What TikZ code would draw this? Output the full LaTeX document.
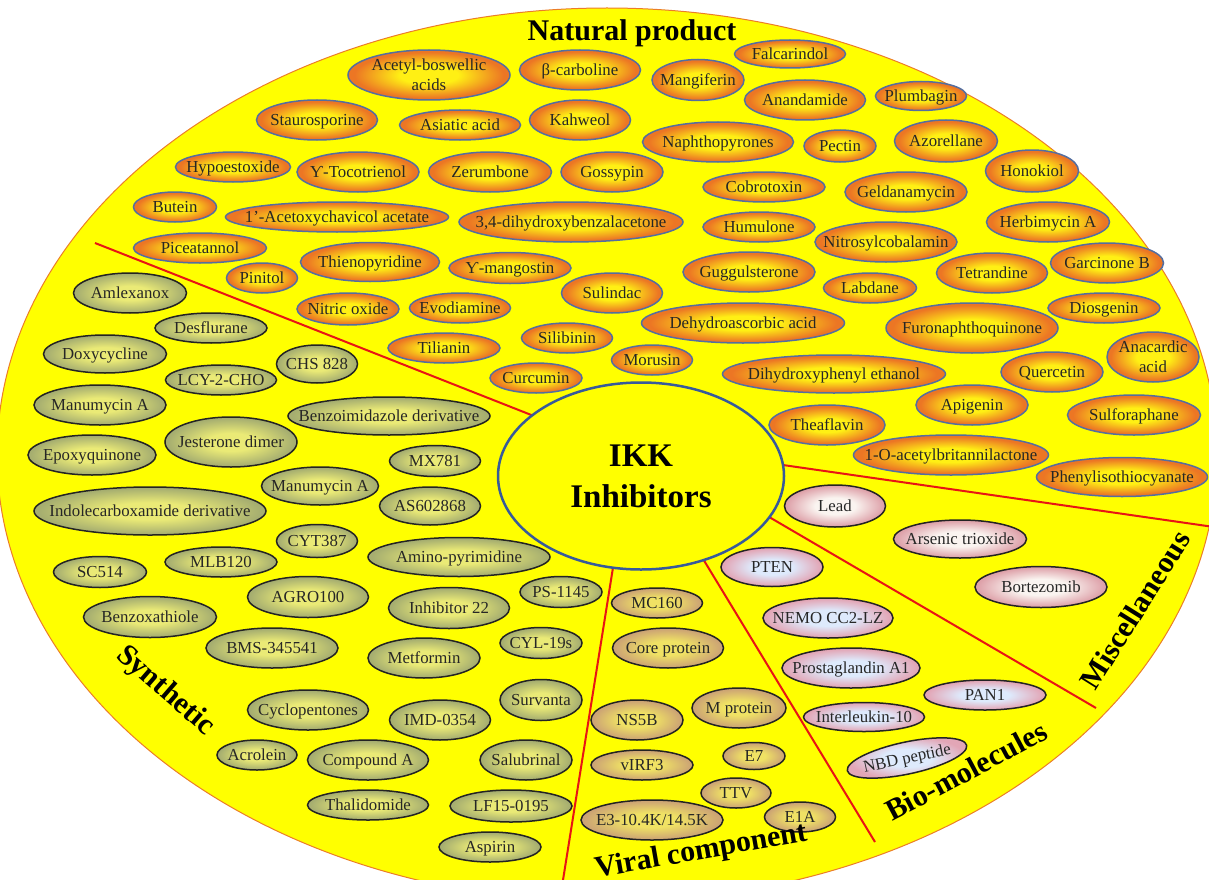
\documentclass[tikz,border=0pt]{standalone}
\usepackage{fontspec}
\setmainfont{Liberation Serif}
\usepackage{xcolor}
\definecolor{Canvas}{RGB}{255,255,0}
\definecolor{RimLine}{RGB}{235,125,40}
\definecolor{Divider}{RGB}{232,20,20}
\definecolor{IkkLine}{RGB}{55,90,155}
\definecolor{NatIn}{RGB}{255,240,20}
\definecolor{NatOut}{RGB}{236,118,36}
\definecolor{NatLine}{RGB}{84,110,160}
\definecolor{SynIn}{RGB}{234,234,118}
\definecolor{SynOut}{RGB}{166,174,112}
\definecolor{VirIn}{RGB}{240,226,100}
\definecolor{VirOut}{RGB}{204,164,116}
\definecolor{BioIn}{RGB}{222,234,252}
\definecolor{BioOut}{RGB}{226,166,182}
\definecolor{MisIn}{RGB}{250,244,240}
\definecolor{MisOut}{RGB}{222,162,170}
\definecolor{DarkLine}{RGB}{35,35,35}
\usepackage{tikz}
\usetikzlibrary{shapes.geometric}
\pgfdeclareradialshading{NatShade}{\pgfpoint{0bp}{0bp}}{color(0bp)=(NatIn); color(9bp)=(NatIn); color(23bp)=(NatOut); color(50bp)=(NatOut)}
\pgfdeclareradialshading{SynShade}{\pgfpoint{0bp}{0bp}}{color(0bp)=(SynIn); color(9bp)=(SynIn); color(24bp)=(SynOut); color(50bp)=(SynOut)}
\pgfdeclareradialshading{VirShade}{\pgfpoint{0bp}{0bp}}{color(0bp)=(VirIn); color(9bp)=(VirIn); color(24bp)=(VirOut); color(50bp)=(VirOut)}
\pgfdeclareradialshading{BioShade}{\pgfpoint{0bp}{0bp}}{color(0bp)=(BioIn); color(10bp)=(BioIn); color(24bp)=(BioOut); color(50bp)=(BioOut)}
\pgfdeclareradialshading{MisShade}{\pgfpoint{0bp}{0bp}}{color(0bp)=(MisIn); color(10bp)=(MisIn); color(24bp)=(MisOut); color(50bp)=(MisOut)}
\newcommand{\NodeFont}{\fontsize{16.8}{20}\selectfont}
\newcommand{\TitleFont}{\fontsize{30}{36}\selectfont\bfseries}
\newcommand{\Lb}[1]{\raisebox{-.32em}[0pt][0pt]{\makebox[0pt]{#1}}}
\newcommand{\Two}[2]{\begin{tabular}{@{}c@{}}#1\\#2\end{tabular}}
\tikzstyle{Item}=[ellipse,inner sep=0pt,line width=1.5pt,text=black!85,font=\NodeFont]
\tikzstyle{NatNode}=[Item,draw=NatLine,shading=NatShade]
\tikzstyle{SynNode}=[Item,draw=DarkLine,shading=SynShade]
\tikzstyle{VirNode}=[Item,draw=DarkLine,shading=VirShade]
\tikzstyle{BioNode}=[Item,draw=DarkLine,shading=BioShade]
\tikzstyle{MisNode}=[Item,draw=DarkLine,shading=MisShade]
\tikzstyle{IkkNode}=[ellipse,draw=IkkLine,line width=2.5pt,fill=Canvas,align=center,
font=\fontsize{33}{41}\selectfont\bfseries]
\tikzstyle{Title}=[inner sep=0pt,font=\TitleFont]
\tikzstyle{Cut}=[draw=Divider,line width=2pt]
\tikzset{Dim/.style 2 args={minimum width=#1pt,minimum height=#2pt}}

\begin{document}
\begin{tikzpicture}[x=1pt,y=-1pt]
\useasboundingbox (0,0) rectangle (1209,880);
\clip (0,0) rectangle (1209,880);
\fill[Canvas] (607,455) ellipse [x radius=610pt,y radius=447pt];
\draw[RimLine,line width=1pt] (607,455) ellipse [x radius=610pt,y radius=447pt];
% dividers
\coordinate(d1a)at(544,420); \coordinate(d1b)at(95,243);
\coordinate(d2a)at(769,463); \coordinate(d2b)at(1214,527);
\coordinate(d3a)at(752,507); \coordinate(d3b)at(1096,708);
\coordinate(d4a)at(697,549); \coordinate(d4b)at(875,842);
\coordinate(d5a)at(615,555); \coordinate(d5b)at(563,880);
\draw[Cut](d1a)--(d1b);
\draw[Cut](d2a)--(d2b);
\draw[Cut](d3a)--(d3b);
\draw[Cut](d4a)--(d4b);
\draw[Cut](d5a)--(d5b);
\node[IkkNode,Dim={286}{187}](ikk)at(641,476){IKK\\Inhibitors};
% natural product
\node[NatNode,Dim={162}{50}](acetyl)at(429,75){\Lb{\Two{Acetyl-boswellic}{acids}}};
\node[NatNode,Dim={121}{40}](carboline)at(580,70){\Lb{β-carboline}};
\node[NatNode,Dim={111}{28}](falcarindol)at(790,54){\Lb{Falcarindol}};
\node[NatNode,Dim={92}{41}](mangiferin)at(698,80){\Lb{Mangiferin}};
\node[NatNode,Dim={121}{40}](anandamide)at(805,100){\Lb{Anandamide}};
\node[NatNode,Dim={91}{29}](plumbagin)at(921,96){\Lb{Plumbagin}};
\node[NatNode,Dim={121}{40}](stauro)at(317,120){\Lb{Staurosporine}};
\node[NatNode,Dim={121}{30}](asiatic)at(460,125){\Lb{Asiatic acid}};
\node[NatNode,Dim={101}{40}](kahweol)at(580,120){\Lb{Kahweol}};
\node[NatNode,Dim={151}{40}](naphtho)at(718,142){\Lb{Naphthopyrones}};
\node[NatNode,Dim={72}{32}](pectin)at(840,146){\Lb{Pectin}};
\node[NatNode,Dim={103}{42}](azorellane)at(946,141){\Lb{Azorellane}};
\node[NatNode,Dim={115}{30}](hypoestoxide)at(233,167){\Lb{Hypoestoxide}};
\node[NatNode,Dim={122}{40}](tocotrienol)at(358,172){\Lb{Ƴ-Tocotrienol}};
\node[NatNode,Dim={123}{40}](zerumbone)at(490,172){\Lb{Zerumbone}};
\node[NatNode,Dim={102}{40}](gossypin)at(612,172){\Lb{Gossypin}};
\node[NatNode,Dim={93}{42}](honokiol)at(1032,171){\Lb{Honokiol}};
\node[NatNode,Dim={122}{30}](cobrotoxin)at(764,187){\Lb{Cobrotoxin}};
\node[NatNode,Dim={122}{40}](geldanamycin)at(906,192){\Lb{Geldanamycin}};
\node[NatNode,Dim={83}{30}](butein)at(175,207){\Lb{Butein}};
\node[NatNode,Dim={223}{30}](chavicol)at(337,217){\Lb{1'-Acetoxychavicol acetate}};
\node[NatNode,Dim={224}{40}](benzalacetone)at(571,222){\Lb{3,4-dihydroxybenzalacetone}};
\node[NatNode,Dim={112}{30}](humulone)at(759,227){\Lb{Humulone}};
\node[NatNode,Dim={142}{40}](nitrosyl)at(886,242){\Lb{Nitrosylcobalamin}};
\node[NatNode,Dim={123}{40}](herbimycin)at(1048,222){\Lb{Herbimycin A}};
\node[NatNode,Dim={133}{30}](piceatannol)at(200,248){\Lb{Piceatannol}};
\node[NatNode,Dim={71}{30}](pinitol)at(262,278){\Lb{Pinitol}};
\node[NatNode,Dim={139}{39}](thieno)at(370,262){\Lb{Thienopyridine}};
\node[NatNode,Dim={122}{31}](mangostin)at(510,268){\Lb{Ƴ-mangostin}};
\node[NatNode,Dim={132}{40}](guggul)at(749,272){\Lb{Guggulsterone}};
\node[NatNode,Dim={93}{30}](labdane)at(870,288){\Lb{Labdane}};
\node[NatNode,Dim={111}{40}](tetrandine)at(992,273){\Lb{Tetrandine}};
\node[NatNode,Dim={113}{40}](garcinone)at(1107,263){\Lb{Garcinone B}};
\node[NatNode,Dim={102}{32}](nitric)at(348,309){\Lb{Nitric oxide}};
\node[NatNode,Dim={101}{30}](evodiamine)at(460,308){\Lb{Evodiamine}};
\node[NatNode,Dim={101}{40}](sulindac)at(612,293){\Lb{Sulindac}};
\node[NatNode,Dim={203}{40}](dehydro)at(743,323){\Lb{Dehydroascorbic acid}};
\node[NatNode,Dim={172}{50}](furonaph)at(972,328){\Lb{Furonaphthoquinone}};
\node[NatNode,Dim={112}{30}](diosgenin)at(1104,308){\Lb{Diosgenin}};
\node[NatNode,Dim={112}{30}](tilianin)at(444,348){\Lb{Tilianin}};
\node[NatNode,Dim={91}{30}](silibinin)at(567,338){\Lb{Silibinin}};
\node[NatNode,Dim={81}{30}](morusin)at(652,360){\Lb{Morusin}};
\node[NatNode,Dim={92}{30}](curcumin)at(536,378){\Lb{Curcumin}};
\node[NatNode,Dim={223}{38}](dihydroxy)at(834,374){\Lb{Dihydroxyphenyl ethanol}};
\node[NatNode,Dim={102}{40}](quercetin)at(1052,372){\Lb{Quercetin}};
\node[NatNode,Dim={92}{50}](anacardic)at(1153,357){\Lb{\Two{Anacardic}{acid}}};
\node[NatNode,Dim={112}{40}](apigenin)at(972,405){\Lb{Apigenin}};
\node[NatNode,Dim={116}{40}](theaflavin)at(827,425){\Lb{Theaflavin}};
\node[NatNode,Dim={133}{40}](sulforaphane)at(1134,415){\Lb{Sulforaphane}};
\node[NatNode,Dim={195}{40}](britanni)at(951,455){\Lb{1-O-acetylbritannilactone}};
\node[NatNode,Dim={171}{39}](phenyliso)at(1122,477){\Lb{Phenylisothiocyanate}};
% synthetic
\node[SynNode,Dim={113}{40}](amlexanox)at(130,293){\Lb{Amlexanox}};
\node[SynNode,Dim={112}{30}](desflurane)at(211,328){\Lb{Desflurane}};
\node[SynNode,Dim={123}{38}](doxycycline)at(105,354){\Lb{Doxycycline}};
\node[SynNode,Dim={81}{38}](chs)at(317,364){\Lb{CHS 828}};
\node[SynNode,Dim={111}{30}](lcy)at(221,380){\Lb{LCY-2-CHO}};
\node[SynNode,Dim={132}{40}](manumycinL)at(100,405){\Lb{Manumycin A}};
\node[SynNode,Dim={202}{38}](benzoimid)at(389,416){\Lb{Benzoimidazole derivative}};
\node[SynNode,Dim={132}{50}](jesterone)at(231,442){\Lb{Jesterone dimer}};
\node[SynNode,Dim={128}{40}](epoxy)at(92,455){\Lb{Epoxyquinone}};
\node[SynNode,Dim={91}{31}](mx)at(435,461){\Lb{MX781}};
\node[SynNode,Dim={117}{38}](manumycinC)at(320,486){\Lb{Manumycin A}};
\node[SynNode,Dim={101}{38}](as)at(430,506){\Lb{AS602868}};
\node[SynNode,Dim={232}{48}](indole)at(150,511){\Lb{Indolecarboxamide derivative}};
\node[SynNode,Dim={81}{33}](cyt)at(317,541){\Lb{CYT387}};
\node[SynNode,Dim={182}{39}](aminopyr)at(459,557){\Lb{Amino-pyrimidine}};
\node[SynNode,Dim={93}{31}](sc)at(100,572){\Lb{SC514}};
\node[SynNode,Dim={112}{30}](mlb)at(221,562){\Lb{MLB120}};
\node[SynNode,Dim={121}{41}](agro)at(308,597){\Lb{AGRO100}};
\node[SynNode,Dim={121}{41}](inhib)at(449,608){\Lb{Inhibitor 22}};
\node[SynNode,Dim={82}{31}](ps)at(561,592){\Lb{PS-1145}};
\node[SynNode,Dim={133}{41}](benzox)at(150,617){\Lb{Benzoxathiole}};
\node[SynNode,Dim={132}{40}](bms)at(272,648){\Lb{BMS-345541}};
\node[SynNode,Dim={112}{40}](metformin)at(424,658){\Lb{Metformin}};
\node[SynNode,Dim={82}{31}](cyl)at(541,643){\Lb{CYL-19s}};
\node[SynNode,Dim={121}{40}](cyclo)at(308,710){\Lb{Cyclopentones}};
\node[SynNode,Dim={101}{40}](imd)at(440,720){\Lb{IMD-0354}};
\node[SynNode,Dim={82}{41}](survanta)at(541,700){\Lb{Survanta}};
\node[SynNode,Dim={80}{30}](acrolein)at(257,755){\Lb{Acrolein}};
\node[SynNode,Dim={121}{40}](compound)at(368,760){\Lb{Compound A}};
\node[SynNode,Dim={92}{40}](salubrinal)at(526,760){\Lb{Salubrinal}};
\node[SynNode,Dim={121}{30}](thalidomide)at(368,805){\Lb{Thalidomide}};
\node[SynNode,Dim={122}{32}](lf)at(511,806){\Lb{LF15-0195}};
\node[SynNode,Dim={102}{30}](aspirin)at(490,847){\Lb{Aspirin}};
% viral component
\node[VirNode,Dim={91}{30}](mc)at(657,603){\Lb{MC160}};
\node[VirNode,Dim={111}{40}](core)at(668,648){\Lb{Core protein}};
\node[VirNode,Dim={92}{40}](ns)at(637,720){\Lb{NS5B}};
\node[VirNode,Dim={94}{40}](mprot)at(739,708){\Lb{M protein}};
\node[VirNode,Dim={62}{27}](e7)at(754,756){\Lb{E7}};
\node[VirNode,Dim={102}{30}](virf)at(642,765){\Lb{vIRF3}};
\node[VirNode,Dim={70}{30}](ttv)at(736,793){\Lb{TTV}};
\node[VirNode,Dim={142}{40}](e3)at(652,820){\Lb{E3-10.4K/14.5K}};
\node[VirNode,Dim={71}{30}](e1a)at(800,817){\Lb{E1A}};
% bio-molecules
\node[BioNode,Dim={102}{39}](pten)at(772,567){\Lb{PTEN}};
\node[BioNode,Dim={130}{40}](nemo)at(828,618){\Lb{NEMO CC2-LZ}};
\node[BioNode,Dim={138}{40}](prosta)at(851,668){\Lb{Prostaglandin A1}};
\node[BioNode,Dim={122}{30}](pan)at(985,695){\Lb{PAN1}};
\node[BioNode,Dim={121}{29}](il)at(864,717){\Lb{Interleukin-10}};
\node[BioNode,Dim={122}{32},rotate=12](nbd)at(907,758){\Lb{NBD peptide}};
% miscellaneous
\node[MisNode,Dim={101}{42}](lead)at(835,506){\Lb{Lead}};
\node[MisNode,Dim={133}{38}](arsenic)at(960,539){\Lb{Arsenic trioxide}};
\node[MisNode,Dim={132}{41}](bortezomib)at(1041,587){\Lb{Bortezomib}};
% group titles
\node[Title](natural)at(632,33){Natural product};
\node[Title,rotate=-41](synthetic)at(165,691){Synthetic};
\node[Title,rotate=10](viral)at(701,852){Viral component};
\node[Title,rotate=28](bio)at(966,771){Bio-molecules};
\node[Title,rotate=58](misc)at(1135,610){Miscellaneous};
\end{tikzpicture}
\end{document}
